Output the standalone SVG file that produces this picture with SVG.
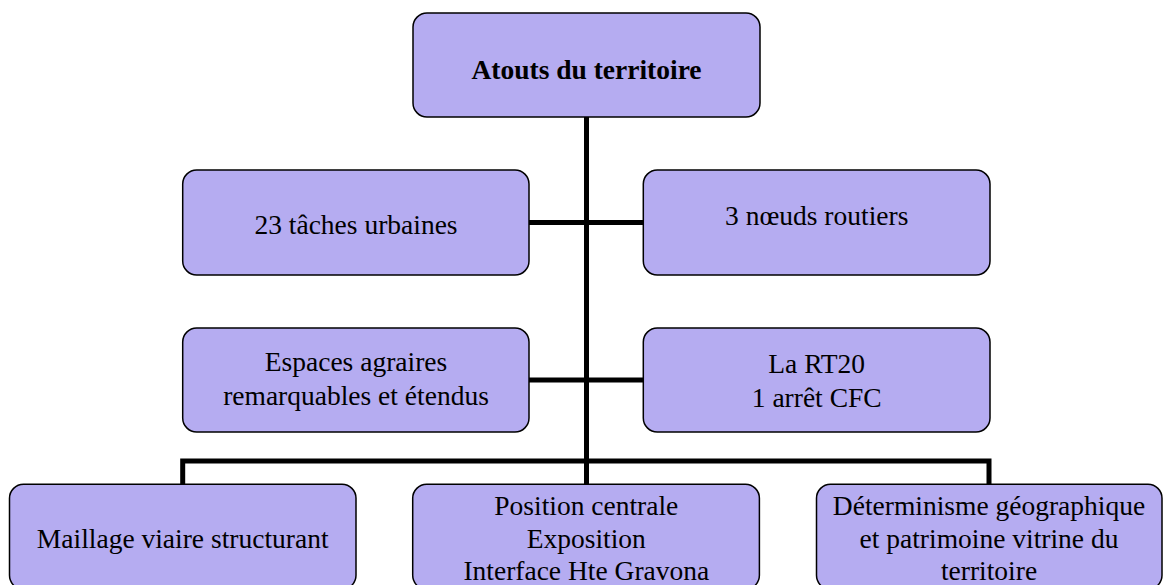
<svg xmlns="http://www.w3.org/2000/svg" width="1163" height="585" viewBox="0 0 1163 585">
<style>
.box{fill:#b5acf1;stroke:#000;stroke-width:1.5}
.t{font-family:'Liberation Serif','DejaVu Serif','Times New Roman',serif;font-size:27.5px;fill:#000;text-anchor:middle}
.b{font-weight:bold}
.c{stroke:#000;stroke-width:5;fill:none}
</style>
<rect width="1163" height="585" fill="#fff"/>
<g id="connectors">
<line class="c" x1="586.5" y1="117" x2="586.5" y2="461"/>
<line class="c" x1="529" y1="222.5" x2="643.5" y2="222.5"/>
<line class="c" x1="529" y1="380" x2="643.5" y2="380"/>
<polyline class="c" points="182.7,484 182.7,461 989,461 989,484"/>
<line class="c" x1="586.5" y1="461" x2="586.5" y2="484"/>
</g>
<g font-family="Liberation Serif, DejaVu Serif, serif">
<g id="n-top">
<rect class="box" x="413" y="13" width="347" height="104" rx="14"/>
<text class="t b" x="586.5" y="79">Atouts du territoire</text>
</g>
<g id="n-taches">
<rect class="box" x="182.7" y="170" width="346.3" height="105" rx="14"/>
<text class="t" x="356" y="234">23 tâches urbaines</text>
</g>
<g id="n-noeuds">
<rect class="box" x="643.3" y="170" width="346.7" height="105" rx="14"/>
<text class="t" x="816.7" y="225">3 nœuds routiers</text>
</g>
<g id="n-espaces">
<rect class="box" x="182.7" y="328" width="346.3" height="104" rx="14"/>
<text class="t" x="356" y="371">Espaces agraires</text>
<text class="t" x="356" y="405">remarquables et étendus</text>
</g>
<g id="n-rt20">
<rect class="box" x="643.3" y="328" width="346.7" height="104" rx="14"/>
<text class="t" x="816.7" y="373">La RT20</text>
<text class="t" x="816.7" y="407">1 arrêt CFC</text>
</g>
<g id="n-maillage">
<rect class="box" x="9.5" y="484.3" width="346.5" height="105" rx="14"/>
<text class="t" x="182.7" y="548">Maillage viaire structurant</text>
</g>
<g id="n-position">
<rect class="box" x="412.7" y="484.3" width="346.7" height="105" rx="14"/>
<text class="t" x="586.3" y="515">Position centrale</text>
<text class="t" x="586.3" y="547.5">Exposition</text>
<text class="t" x="586.3" y="580">Interface Hte Gravona</text>
</g>
<g id="n-determinisme">
<rect class="box" x="816.5" y="484.3" width="345.5" height="105" rx="14"/>
<text class="t" x="989" y="515">Déterminisme géographique</text>
<text class="t" x="989" y="548">et patrimoine vitrine du</text>
<text class="t" x="989" y="580">territoire</text>
</g>
</g>
</svg>
